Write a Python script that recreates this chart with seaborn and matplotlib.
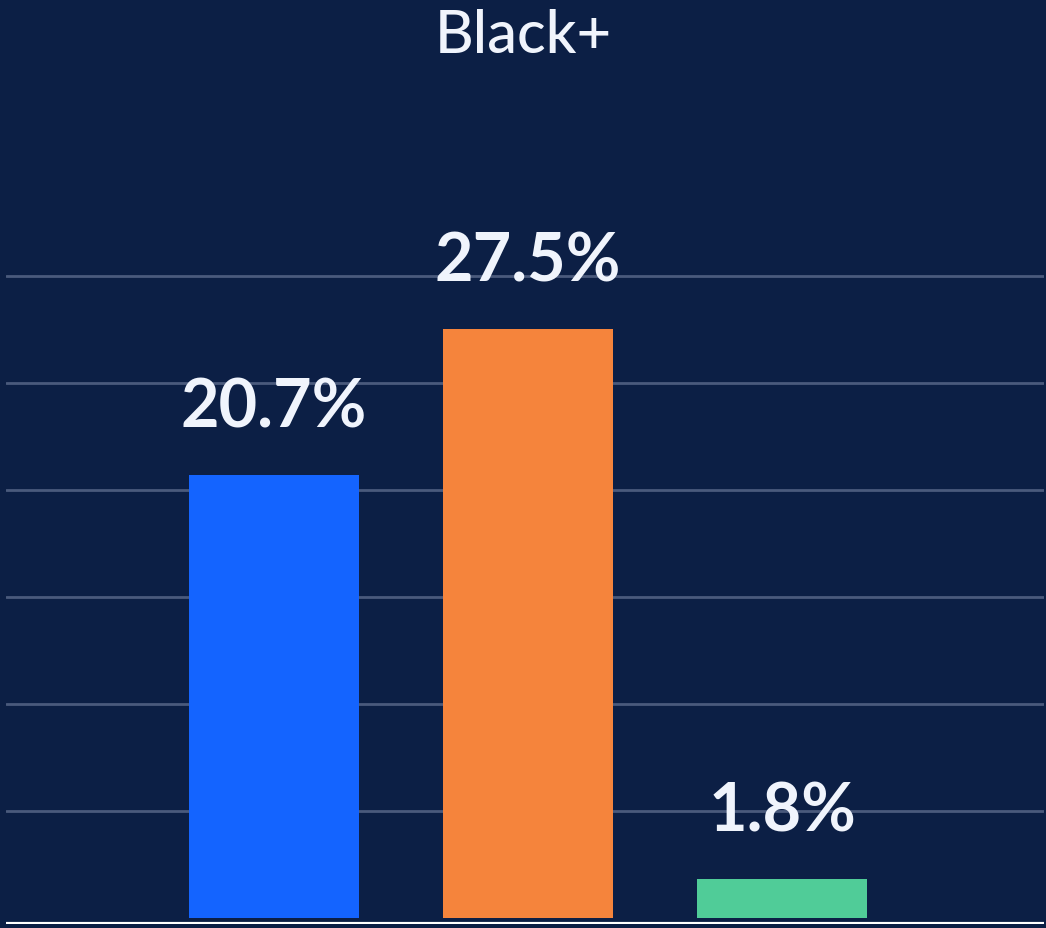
import pandas as pd
import matplotlib.pyplot as plt
import seaborn as sns

# data
categories = ['A', 'B', 'C']
values = [20.7, 27.5, 1.8]
labels = ['20.7%', '27.5%', '1.8%']
bar_colors = ['#1464ff', '#f5843c', '#50cc98']
title = 'Black+'

bg = '#0c1f45'
txt = '#f0f4fc'

df = pd.DataFrame({'cat': categories, 'val': values})

sns.set_theme(style='dark')
plt.rcParams['font.family'] = ['Lato', 'DejaVu Sans']

fig = plt.figure(figsize=(10.46, 9.29), dpi=100, facecolor=bg)
ax = fig.add_axes([6 / 1046, 4 / 929, 1038 / 1046, 734 / 929])
ax.set_facecolor(bg)

sns.barplot(data=df, x='cat', y='val', hue='cat', palette=bar_colors,
            width=0.67, legend=False, saturation=1, linewidth=0, ax=ax)

ax.set_xlim(-1.055, 3.03)
ax.set_ylim(-0.3, 34)
ax.set_yticks([5, 10, 15, 20, 25, 30])
ax.grid(axis='y', color='#4a5a7c', linewidth=2)
ax.grid(axis='x', visible=False)
ax.set_axisbelow(True)
ax.axhline(-0.3, color='white', linewidth=3, zorder=5)

for s in ax.spines.values():
    s.set_visible(False)
ax.set_xticks([])
ax.tick_params(left=False, labelleft=False)
ax.set_xlabel('')
ax.set_ylabel('')

# one container per hue level
for cont, lab in zip(ax.containers, labels):
    ax.bar_label(cont, labels=[lab], padding=26, color=txt,
                 fontsize=48, fontweight='bold')

fig.text(0.5, 1 - 36 / 929, title, ha='center', va='center', color=txt,
         fontsize=43, fontweight='medium')

fig.savefig('out.png', dpi=100, facecolor=bg)
